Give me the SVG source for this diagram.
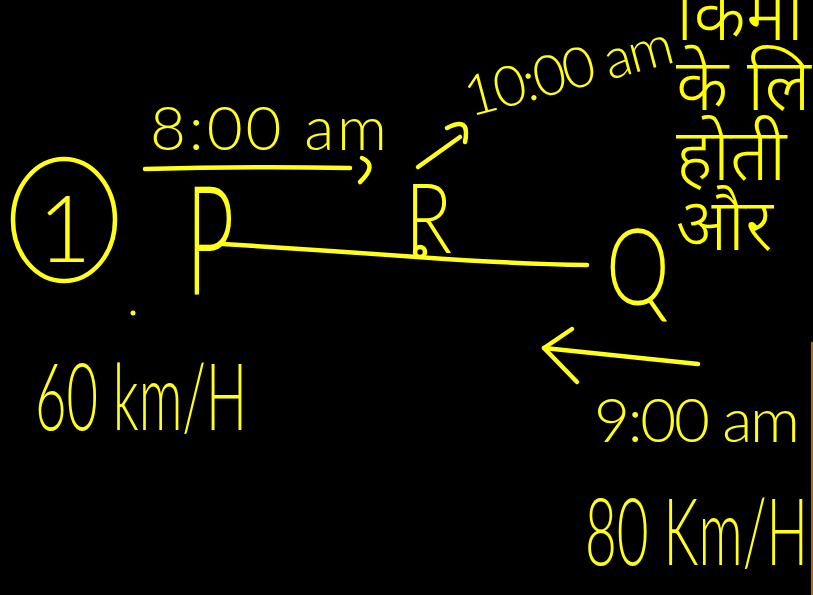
<svg xmlns="http://www.w3.org/2000/svg" width="813" height="595" viewBox="0 0 813 595">
<style>
.ink{fill:none;stroke:#ffff1a;stroke-width:4.5;stroke-linecap:round;stroke-linejoin:round}
.hw{fill:#ffff1a;font-family:Lato,"Open Sans","DejaVu Sans",sans-serif;font-weight:300}
.hi{fill:#ffff00;font-family:"Noto Sans Devanagari","Noto Sans","Lohit Devanagari","DejaVu Sans",sans-serif;font-size:72px;font-weight:350}
</style>
<rect width="813" height="595" fill="#000"/>
<g id="label-1">
<ellipse class="ink" cx="64" cy="220" rx="51" ry="61"/>
<text class="hw" x="38" y="262" font-size="92">1</text>
</g>
<g id="node-P">
<text class="hw" transform="translate(186,294) scale(0.55,1)" font-size="152">P</text>
</g>
<g id="node-R">
<text class="hw" transform="translate(405,253) scale(0.8,1)" font-size="97">R</text>
<circle class="ink" cx="420" cy="252" r="5"/>
</g>
<g id="node-Q">
<text class="hw" transform="translate(606,305) scale(0.75,1)" font-size="107">Q</text>
</g>
<g id="connectors">
<path class="ink" d="M223,244 Q320,250 417,257 T587,265"/>
<path class="ink" d="M145,169 Q250,166 350,168"/>
<path class="ink" d="M362,158 Q378,165 360,182"/>
<path class="ink" d="M418,167 L460,137"/>
<path class="ink" d="M447,128 Q466,118 466,133 Q466,138 465,142"/>
<path class="ink" d="M698,364 Q620,356 544,348"/>
<path class="ink" d="M572,329 L544,348 L577,382"/>
</g>
<g id="labels">
<text class="hw" x="150" y="150" font-size="62" textLength="237" lengthAdjust="spacing">8:00 am</text>
<text class="hw" transform="translate(470,117) rotate(-15)" font-size="56" textLength="214" lengthAdjust="spacing">10:00 am</text>
<text class="hw" x="594" y="442" font-size="62" textLength="206" lengthAdjust="spacing">9:00 am</text>
<text class="hw" x="585" y="565" font-size="92" textLength="223" lengthAdjust="spacingAndGlyphs">80 Km/H</text>
<text class="hw" x="35" y="430" font-size="92" textLength="212" lengthAdjust="spacingAndGlyphs">60 km/H</text>
<circle cx="133" cy="313" r="2.5" fill="#ffff1a"/>
</g>
<g id="hindi-text">
<text class="hi" x="676" y="40">किमी</text>
<text class="hi" x="676" y="110">के लि</text>
<text class="hi" x="676" y="180">होती</text>
<text class="hi" x="676" y="250">और</text>
</g>
<line x1="812" y1="342" x2="812" y2="595" stroke="#b06a10" stroke-width="2"/>
</svg>
